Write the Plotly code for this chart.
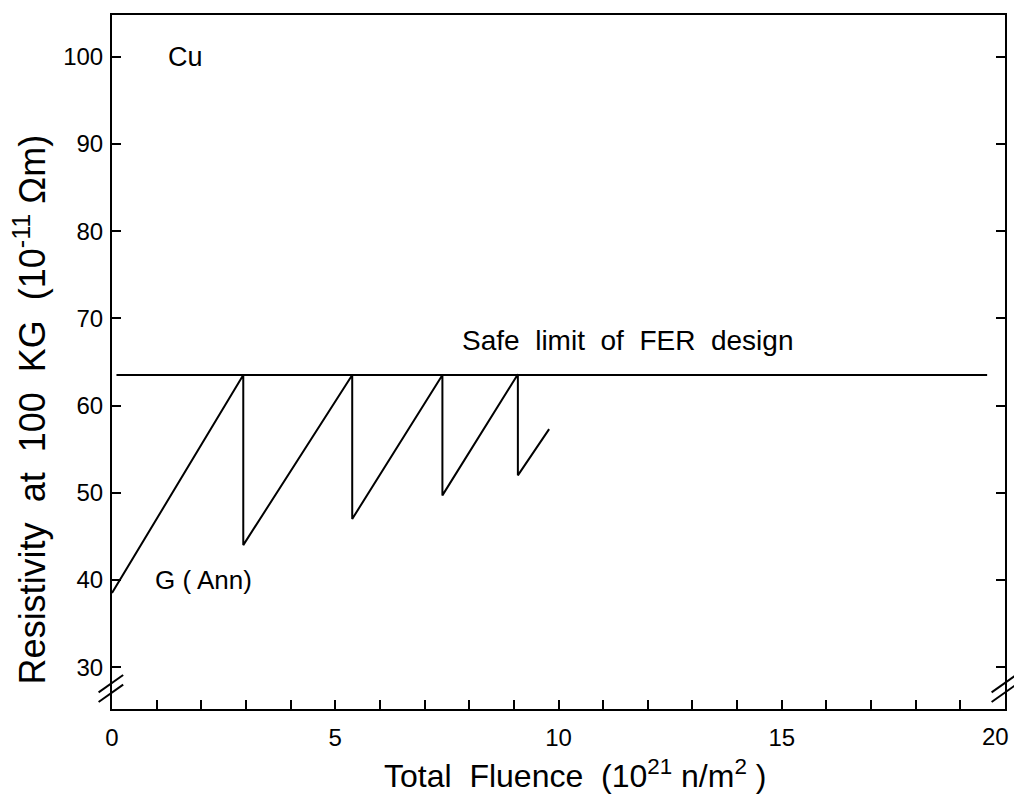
import plotly.graph_objects as go

# Resistivity of Cu at 100 kG vs total neutron fluence, with periodic anneals
fluence = [0.0, 2.94, 2.94, 5.38, 5.38, 7.40, 7.40, 9.09, 9.09, 9.79]
resistivity = [38.5, 63.5, 44.0, 63.5, 47.0, 63.5, 49.7, 63.6, 52.0, 57.3]

# Safe limit of the FER design
limit_x = [0.1, 19.6]
limit_y = [63.5, 63.5]

x_range = [0, 20]
y_range = [25.2, 104.8]
y_ticks = [30, 40, 50, 60, 70, 80, 90, 100]
x_ticks = [0, 5, 10, 15, 20]
x_tick_labels = ["0", "5", "10", "15", "20"]

FONT = "Liberation Sans Narrow, Liberation Sans, Arial Narrow, sans-serif"

fig = go.Figure()
fig.add_trace(go.Scatter(x=limit_x, y=limit_y, mode="lines",
                         line=dict(color="black", width=2), showlegend=False))
fig.add_trace(go.Scatter(x=fluence, y=resistivity, mode="lines",
                         line=dict(color="black", width=2), showlegend=False))


def px(x):
    return (x - x_range[0]) / (x_range[1] - x_range[0])


def py(y):
    return (y - y_range[0]) / (y_range[1] - y_range[0])


# axis break marks "//" on both vertical axes
shapes = []
for xc in (0, 20):
    for y_lo in (26.0, 27.1):
        shapes.append(dict(type="line", xref="paper", yref="paper",
                           x0=px(xc - 0.3), y0=py(y_lo),
                           x1=px(xc + 0.25), y1=py(y_lo + 2.0),
                           line=dict(color="black", width=2)))

annotations = [
    dict(x=1.22, y=100, text="Cu", showarrow=False, xanchor="left",
         font=dict(size=27, color="black", family=FONT)),
    dict(x=7.8, y=67.5, text="Safe  limit  of  FER  design", showarrow=False,
         xanchor="left", font=dict(size=28, color="black", family=FONT)),
    dict(x=0.92, y=40, text="G ( Ann)", showarrow=False, xanchor="left",
         font=dict(size=26, color="black", family=FONT)),
    # last x tick label, kept inside the page edge
    dict(x=x_ticks[-1], y=-0.04, xref="x", yref="paper", showarrow=False,
         xanchor="right", yanchor="middle", xshift=6,
         text=x_tick_labels[-1],
         font=dict(size=24, color="black", family=FONT)),
    # axis titles
    dict(x=0.518, y=-0.094, xref="paper", yref="paper", showarrow=False,
         xanchor="center", yanchor="middle",
         text="Total  Fluence  (10<sup>21</sup> n/m<sup>2</sup> )",
         font=dict(size=32, color="black", family=FONT)),
    dict(x=-0.0916, y=0.432, xref="paper", yref="paper", showarrow=False,
         xanchor="center", yanchor="middle", textangle=-90,
         text="Resistivity  at  100  KG  (10<sup>-11</sup> Ωm)",
         font=dict(size=36, color="black", family=FONT)),
]

fig.update_layout(
    width=1014, height=811,
    margin=dict(l=112, r=7, t=15, b=102),
    paper_bgcolor="white", plot_bgcolor="white",
    font=dict(family=FONT, color="black", size=24),
    shapes=shapes,
    annotations=annotations,
    xaxis=dict(
        range=x_range, tickvals=x_ticks,
        ticktext=x_tick_labels[:-1] + [""],
        ticks="inside", ticklen=9,
        tickwidth=2, tickcolor="black", showline=True, linecolor="black",
        linewidth=2, mirror=True, showgrid=False, zeroline=False,
        tickfont=dict(size=24), ticklabelstandoff=6,
        minor=dict(dtick=1, ticks="inside", ticklen=9, tickwidth=2,
                   tickcolor="black", showgrid=False),
    ),
    yaxis=dict(
        range=y_range, tickvals=y_ticks, ticks="inside", ticklen=9,
        tickwidth=2, tickcolor="black", showline=True, linecolor="black",
        linewidth=2, mirror="ticks", showgrid=False, zeroline=False,
        tickfont=dict(size=24), ticklabelstandoff=2,
    ),
)

fig.write_html("out.html")
